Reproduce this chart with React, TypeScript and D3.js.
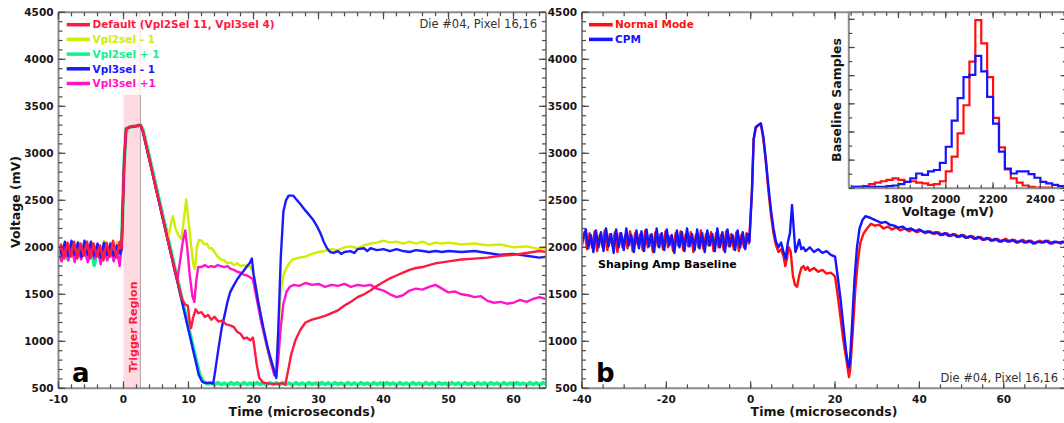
import React from "react";
import * as d3 from "d3";

type Pt = [number, number];

// ---------------- Panel a data (time µs, voltage mV) ----------------
const A_DEFAULT: Pt[] = [
  [-10,1960],[-9.6,2030],[-9.1,1880],[-8.6,2050],[-8.1,1900],[-7.6,2060],[-7.1,1880],[-6.6,2040],[-6.1,1910],[-5.6,2060],[-5.1,1880],[-4.6,2040],[-4.1,1900],[-3.6,2020],[-3.1,1860],[-2.6,2050],[-2.1,1900],[-1.6,2070],[-1.1,1890],[-0.6,2060],[-0.3,1990],
  [0.1,2900],[0.4,3260],[1,3280],[1.6,3290],[2.2,3290],[2.6,3300],[3,3230],[4,2930],[5,2620],[6,2330],[7,2020],[8,1730],[9,1450],[9.5,1390],[9.9,1380],[10.2,1200],[10.4,1140],[10.7,1250],[11.1,1340],[11.5,1300],[12,1310],[12.5,1260],[13,1280],[13.5,1230],[14,1260],[14.6,1210],[15.2,1220],[15.8,1180],[16.4,1170],[17,1150],[17.5,1100],[18,1080],[18.5,1030],[19,1040],[19.5,1010],[19.9,1040],[20.1,960],[20.5,750],[20.9,610],[21.5,560],[22.5,550],[23.5,545],[24.3,555],[24.9,540],
  [25.3,680],[25.8,860],[26.5,1020],[27.2,1120],[28,1200],[29,1230],[30,1250],[31,1270],[32,1300],[33,1330],[34,1380],[35,1420],[36,1470],[37,1500],[38,1540],[39,1590],[40,1630],[41,1670],[42,1700],[43,1730],[44,1760],[45,1780],[46,1790],[47,1810],[48,1830],[49,1840],[50,1850],[52,1870],[54,1880],[56,1890],[58,1910],[60,1920],[62,1940],[64,1960],[65,1950]
];
const A_VPL2_M1: Pt[] = [
  [-10,2000],[-9.5,1900],[-9,2050],[-8.5,1880],[-8,2040],[-7.5,1890],[-7,2060],[-6.5,1900],[-6,2030],[-5.5,1880],[-5,2050],[-4.5,1900],[-4,2020],[-3.5,1850],[-3,2070],[-2.5,1890],[-2,2050],[-1.5,1900],[-1,2060],[-0.5,1950],[-0.3,2000],
  [0.1,2900],[0.4,3260],[1,3280],[2,3290],[2.6,3300],[3,3235],[4,2935],[5,2630],[6,2330],[6.8,2080],[7.3,2250],[7.6,2330],[8,2200],[8.5,2120],[8.9,2090],[9.3,2300],[9.65,2510],[10,2280],[10.4,2020],[10.8,1800],[11,1770],[11.3,2000],[11.6,2080],[12,2070],[12.4,2030],[12.8,2040],[13.2,1990],[13.6,1990],[14,1950],[14.5,1900],[15,1870],[15.5,1860],[16,1830],[16.5,1840],[17,1810],[17.5,1830],[18,1800],[18.5,1810],[19,1790],[19.5,1800],[19.8,1750],
  [20.3,1620],[21,1330],[21.8,1010],[22.6,780],[23.2,700],[23.5,720],[23.8,1100],[24.2,1520],[24.6,1700],[25,1770],[25.5,1830],[26,1870],[27,1890],[28,1900],[29,1930],[30,1950],[31,1960],[32,1980],[33,1970],[34,2000],[35,2010],[36,1990],[37,2020],[38,2040],[39,2050],[40,2070],[41,2050],[42,2060],[43,2040],[44,2060],[45,2040],[46,2060],[47,2030],[48,2050],[49,2040],[50,2050],[52,2030],[54,2040],[56,2020],[58,2030],[60,2000],[62,2010],[64,1980],[65,1990]
];
const A_VPL2_P1: Pt[] = [
  [-10,1980],[-9.5,1890],[-9,2030],[-8.5,1870],[-8,2020],[-7.5,1880],[-7,2040],[-6.5,1900],[-6,2010],[-5.5,1870],[-5,2030],[-4.5,1810],[-4,2000],[-3.5,1870],[-3,2030],[-2.5,1880],[-2,2020],[-1.5,1900],[-1,2040],[-0.5,1940],[-0.3,2000],
  [0.1,2900],[0.4,3260],[1,3280],[2,3290],[2.6,3300],[3,3250],[4,2955],[5,2650],[6,2350],[7,2050],[8,1750],[9,1450],[10,1150],[11,850],[11.7,650],[12.3,570],
  [13,545],[13.5,558],[14,538],[14.5,560],[15,540],[15.5,556],[16,536],[16.5,560],[17,542],[17.5,558],[18,536],[18.5,560],[19,540],[19.5,557],[20,537],[20.5,560],[21,541],[21.5,556],[22,536],[22.5,560],[23,540],[23.5,558],[24,537],[24.5,560],[25,542],[25.5,556],[26,536],[26.5,560],[27,540],[27.5,557],[28,538],[28.5,560],[29,541],[29.5,556],[30,536],[30.5,560],[31,540],[31.5,558],[32,537],[32.5,560],[33,542],[33.5,556],[34,536],[34.5,560],[35,540],[35.5,557],[36,538],[36.5,560],[37,541],[37.5,556],[38,536],[38.5,560],[39,540],[39.5,558],[40,537],[40.5,560],[41,542],[41.5,556],[42,536],[42.5,560],[43,540],[43.5,557],[44,538],[44.5,560],[45,541],[45.5,556],[46,536],[46.5,560],[47,540],[47.5,558],[48,537],[48.5,560],[49,542],[49.5,556],[50,536],[50.5,560],[51,540],[51.5,557],[52,538],[52.5,560],[53,541],[53.5,556],[54,536],[54.5,560],[55,540],[55.5,558],[56,537],[56.5,560],[57,542],[57.5,556],[58,536],[58.5,560],[59,540],[59.5,557],[60,538],[60.5,560],[61,541],[61.5,556],[62,536],[62.5,560],[63,540],[63.5,558],[64,537],[64.5,560],[65,545]
];
const A_VPL3_M1: Pt[] = [
  [-10,2010],[-9.5,1920],[-9,2060],[-8.5,1910],[-8,2070],[-7.5,1920],[-7,2050],[-6.5,1900],[-6,2070],[-5.5,1920],[-5,2060],[-4.5,1910],[-4,2040],[-3.5,1890],[-3,2050],[-2.5,1920],[-2,2040],[-1.5,1910],[-1,2020],[-0.5,1930],[-0.3,1980],
  [0.1,2900],[0.4,3260],[1,3280],[2,3290],[2.6,3300],[3,3225],[4,2925],[5,2620],[6,2320],[7,2020],[8,1720],[9,1420],[10,1120],[11,820],[11.6,640],[12.1,570],[12.6,555],[13.2,560],[13.8,550],
  [14.1,680],[14.6,920],[15.1,1140],[15.5,1260],[16,1420],[16.4,1520],[17,1600],[17.5,1660],[18,1710],[18.5,1750],[19,1800],[19.4,1830],[19.75,1880],[20,1720],[20.7,1430],[21.5,1150],[22.3,900],[23,730],[23.5,610],
  [23.8,1100],[24.2,1900],[24.6,2380],[25,2500],[25.4,2550],[26.1,2550],[26.7,2500],[27.2,2460],[28,2390],[28.5,2350],[29.2,2290],[29.8,2220],[30.3,2150],[30.8,2060],[31.3,1990],[31.8,1950],[32.3,1940],[33,1960],[33.5,1930],[34,1950],[34.9,1960],[35.5,1940],[36,1980],[37,1990],[37.5,1960],[38,1990],[39,1970],[40,1980],[41,1960],[42,1980],[43,1960],[44,1950],[45,1970],[46,1960],[47,1950],[48,1960],[49,1950],[50,1960],[52,1950],[54,1960],[56,1940],[58,1920],[60,1930],[62,1910],[64,1890],[65,1900]
];
const A_VPL3_P1: Pt[] = [
  [-10,1930],[-9.5,1850],[-9,2000],[-8.5,1860],[-8,2010],[-7.5,1840],[-7,2000],[-6.5,1870],[-6,1990],[-5.5,1840],[-5,2000],[-4.5,1880],[-4,1980],[-3.5,1820],[-3,2000],[-2.5,1860],[-2,1990],[-1.5,1850],[-1,1980],[-0.6,1800],[-0.3,1990],
  [0.1,2900],[0.4,3260],[1,3280],[2,3290],[2.6,3300],[3,3230],[4,2930],[5,2630],[6,2320],[7,2020],[8,1720],[8.3,1660],[8.7,1850],[9.1,2050],[9.5,2180],[9.8,2000],[10.2,1700],[10.6,1480],[10.9,1420],[11.2,1650],[11.5,1790],[12,1790],[12.5,1810],[13,1790],[13.5,1800],[14,1790],[14.5,1810],[15,1800],[15.5,1790],[16,1800],[16.5,1770],[17,1760],[17.5,1740],[18,1730],[18.5,1710],[19,1700],[19.5,1680],[19.9,1660],
  [20.5,1450],[21.2,1200],[22,970],[22.7,770],[23.2,640],[23.5,630],[23.8,800],[24.2,1150],[24.6,1400],[25.1,1530],[25.6,1580],[26.2,1600],[27,1590],[28,1620],[29,1600],[30,1610],[31,1580],[32,1600],[33,1590],[34,1610],[35,1580],[36,1600],[37,1590],[38,1600],[39,1560],[40,1540],[41,1500],[42,1470],[43,1490],[44,1540],[45,1560],[46,1550],[47,1580],[48,1600],[49,1560],[50,1520],[51,1530],[52,1500],[53,1490],[54,1470],[55,1480],[56,1430],[57,1410],[58,1420],[59,1400],[60,1410],[61,1440],[62,1420],[63,1450],[64,1470],[65,1450]
];

const A_SERIES_NAMES = ["Default (Vpl2Sel 11, Vpl3sel 4)", "Vpl2sel - 1", "Vpl2sel + 1", "Vpl3sel - 1", "Vpl3sel +1"];
const A_SERIES_COLORS = ["#ff1a40", "#cfee00", "#14f08c", "#1a1aff", "#ff14c8"];
const A_SERIES_DATA = [A_DEFAULT, A_VPL2_M1, A_VPL2_P1, A_VPL3_M1, A_VPL3_P1];
const A_DRAW_ORDER = [2, 1, 4, 3, 0];
const TRIGGER_REGION: [number, number] = [0, 2.6];

// ---------------- Panel b data ----------------
const B_NORMAL: Pt[] = [
  [-40,2060],[-39.4,2160],[-38.8,1980],[-38.2,2150],[-37.6,2000],[-37,2170],[-36.4,1960],[-35.8,2130],[-35.2,2010],[-34.6,2180],[-34,1970],[-33.4,2140],[-32.8,2020],[-32.2,2160],[-31.6,1950],[-31,2150],[-30.4,2000],[-29.8,2120],[-29.2,1990],[-28.6,2170],[-28,1960],[-27.4,2150],[-26.8,2030],[-26.2,2140],[-25.6,1970],[-25,2180],[-24.4,2000],[-23.8,2130],[-23.2,1950],[-22.6,2160],[-22,2010],[-21.4,2140],[-20.8,1980],[-20.2,2170],[-19.6,2000],[-19,2120],[-18.4,1960],[-17.8,2150],[-17.2,2020],[-16.6,2170],[-16,1970],[-15.4,2140],[-14.8,2010],[-14.2,2160],[-13.6,1950],[-13,2130],[-12.4,2000],[-11.8,2180],[-11.2,1980],[-10.6,2140],[-10,2020],[-9.4,2160],[-8.8,1960],[-8.2,2150],[-7.6,2000],[-7,2130],[-6.4,1970],[-5.8,2170],[-5.2,2010],[-4.6,2140],[-4,1980],[-3.4,2160],[-2.8,1960],[-2.2,2130],[-1.6,2000],[-1,2150],[-0.4,2040],
  [0.3,2600],[0.7,3150],[1.2,3270],[1.8,3300],[2.4,3310],[3,3150],[3.6,2900],[4.2,2600],[4.8,2350],[5.4,2150],[6,2020],[6.6,1950],[7.2,1980],[7.8,1900],[8.2,1800],[8.6,1880],[9,2000],[9.5,1950],[10,1700],[10.5,1600],[11,1580],[11.5,1700],[12,1780],[12.5,1800],[13,1760],[13.5,1790],[14,1750],[15,1780],[16,1740],[17,1760],[18,1720],[19,1730],[20,1690],
  [20.6,1500],[21.3,1250],[22,1000],[22.7,800],[23.3,620],[23.6,700],[24.2,1100],[24.8,1550],[25.4,1850],[26,2050],[26.8,2150],[27.6,2200],[28.5,2250],[29.5,2230],[30.5,2240],[31.5,2200],[32.5,2220],[33.5,2190],[34.5,2210],[35.5,2180],[36.5,2200],[37.5,2170],[38.5,2190],[39.5,2160],[40.5,2180],[41.5,2150],[42.5,2170],[43.5,2140],[44.5,2160],[45.5,2130],[46.5,2150],[47.5,2120],[48.5,2140],[49.5,2110],[50.5,2130],[51.5,2100],[52.5,2120],[53.5,2090],[54.5,2110],[55.5,2080],[56.5,2100],[57.5,2070],[58.5,2090],[59.5,2060],[60.5,2090],[61.5,2060],[62.5,2080],[63.5,2050],[64.5,2080],[65.5,2050],[66.5,2070],[67.5,2040],[68.5,2070],[69.5,2050],[70.5,2070],[71.5,2040],[72.5,2060],[73.5,2040],[74.5,2060],[75,2050]
];
const B_CPM: Pt[] = [
  [-40,2020],[-39.7,2100],[-39.1,2190],[-38.5,1990],[-37.9,2130],[-37.3,1950],[-36.7,2180],[-36.1,2000],[-35.5,2160],[-34.9,1960],[-34.3,2200],[-33.7,2010],[-33.1,2140],[-32.5,1940],[-31.9,2190],[-31.3,2000],[-30.7,2150],[-30.1,1970],[-29.5,2200],[-28.9,2020],[-28.3,2130],[-27.7,1950],[-27.1,2180],[-26.5,1990],[-25.9,2170],[-25.3,1960],[-24.7,2190],[-24.1,2010],[-23.5,2140],[-22.9,1950],[-22.3,2200],[-21.7,2000],[-21.1,2150],[-20.5,1970],[-19.9,2190],[-19.3,2020],[-18.7,2130],[-18.1,1940],[-17.5,2180],[-16.9,2000],[-16.3,2160],[-15.7,1960],[-15.1,2200],[-14.5,2010],[-13.9,2140],[-13.3,1970],[-12.7,2190],[-12.1,1990],[-11.5,2150],[-10.9,1950],[-10.3,2180],[-9.7,2020],[-9.1,2140],[-8.5,1960],[-7.9,2200],[-7.3,2000],[-6.7,2160],[-6.1,1950],[-5.5,2190],[-4.9,2010],[-4.3,2130],[-3.7,1970],[-3.1,2180],[-2.5,2000],[-1.9,2160],[-1.3,1980],[-0.7,2140],[-0.3,2060],
  [0.3,2600],[0.7,3150],[1.2,3280],[1.8,3300],[2.4,3320],[3,3180],[3.6,2930],[4.2,2650],[4.8,2400],[5.4,2200],[6,2060],[6.6,2000],[7.2,2050],[7.8,1950],[8.3,1880],[8.8,2050],[9.3,2150],[9.8,2450],[10.2,2200],[10.6,1950],[11,2000],[11.5,2080],[12,1980],[12.5,2000],[13,1960],[14,2000],[15,1950],[16,1980],[17,1940],[18,1960],[19,1920],[20,1900],
  [20.6,1700],[21.3,1450],[22,1150],[22.6,900],[23.2,720],[23.5,760],[24,1150],[24.6,1650],[25.2,2000],[25.8,2200],[26.5,2290],[27.2,2330],[28,2320],[29,2300],[30,2280],[31,2260],[32,2270],[33,2240],[34,2230],[35,2210],[36,2220],[37,2190],[38,2200],[39,2170],[40,2190],[41,2160],[42,2170],[43,2150],[44,2160],[45,2130],[46,2150],[47,2120],[48,2140],[49,2110],[50,2130],[51,2100],[52,2120],[53,2090],[54,2110],[55,2080],[56,2100],[57,2070],[58,2090],[59,2060],[60,2080],[61,2060],[62,2080],[63,2050],[64,2070],[65,2050],[66,2070],[67,2040],[68,2060],[69,2050],[70,2070],[71,2040],[72,2060],[73,2050],[74,2060],[75,2050]
];
const B_SERIES_NAMES = ["Normal Mode", "CPM"];
const B_SERIES_COLORS = ["#ff1010", "#1414ff"];

// ---------------- Inset histogram ----------------
const HIST_BIN_EDGES = [1600,1625,1650,1675,1700,1725,1750,1775,1800,1825,1850,1875,1900,1925,1950,1975,2000,2025,2050,2075,2100,2125,2150,2175,2200,2225,2250,2275,2300,2325,2350,2375,2400,2425,2450,2475,2500];
const HIST_NORMAL = [2,2,3,6,8,10,12,14,12,9,10,8,7,5,6,10,24,45,78,118,180,239,206,158,100,58,27,14,8,4,2,1,1,1,0,0];
const HIST_CPM = [2,2,2,2,2,2,3,4,6,9,14,21,19,24,26,36,59,96,128,158,161,188,166,130,92,52,28,21,24,24,20,15,9,7,5,3];

const FONT = "'DejaVu Sans', Verdana, sans-serif";
const AXIS_COLOR = "#8c8c8c";
const TICK_COLOR = "#4a4a4a";
const TEXT_COLOR = "#161616";

type AxisProps = {
  x: d3.ScaleLinear<number, number>;
  y: d3.ScaleLinear<number, number>;
  xMajor: number[];
  xMinor: number[];
  yMajor: number[];
  yMinor: number[];
  xLabels?: boolean;
  yLabels?: boolean;
  majorLen?: number;
  minorLen?: number;
  fontSize?: number;
  drawRight?: boolean;
  drawTop?: boolean;
};

function Frame(p: AxisProps) {
  const [x0, x1] = p.x.range();
  const [y0, y1] = p.y.range();
  const ML = p.majorLen ?? 7;
  const mL = p.minorLen ?? 4;
  const fs = p.fontSize ?? 10.5;
  const els: React.ReactNode[] = [];
  const drawTop = p.drawTop ?? true;
  const drawRight = p.drawRight ?? true;
  const xt = (vals: number[], len: number, k: string) =>
    vals.forEach((v, i) => {
      const xx = p.x(v);
      els.push(<line key={`${k}b${i}`} x1={xx} x2={xx} y1={y0} y2={y0 - len} stroke={TICK_COLOR} strokeWidth={1.2} />);
      if (drawTop) els.push(<line key={`${k}t${i}`} x1={xx} x2={xx} y1={y1} y2={y1 + len} stroke={TICK_COLOR} strokeWidth={1.2} />);
    });
  const yt = (vals: number[], len: number, k: string) =>
    vals.forEach((v, i) => {
      const yy = p.y(v);
      els.push(<line key={`${k}l${i}`} x1={x0} x2={x0 + len} y1={yy} y2={yy} stroke={TICK_COLOR} strokeWidth={1.2} />);
      if (drawRight) els.push(<line key={`${k}r${i}`} x1={x1} x2={x1 - len} y1={yy} y2={yy} stroke={TICK_COLOR} strokeWidth={1.2} />);
    });
  xt(p.xMinor, mL, "xm");
  xt(p.xMajor, ML, "xM");
  yt(p.yMinor, mL, "ym");
  yt(p.yMajor, ML, "yM");
  return (
    <g>
      <line x1={x0} x2={x1} y1={y0} y2={y0} stroke={AXIS_COLOR} strokeWidth={2} />
      <line x1={x0} x2={x0} y1={y0} y2={y1} stroke={AXIS_COLOR} strokeWidth={2} />
      {drawTop && <line x1={x0} x2={x1} y1={y1} y2={y1} stroke={AXIS_COLOR} strokeWidth={2} />}
      {drawRight && <line x1={x1} x2={x1} y1={y0} y2={y1} stroke={AXIS_COLOR} strokeWidth={2} />}
      {els}
      {p.xLabels !== false &&
        p.xMajor.map((v, i) => (
          <text key={`xl${i}`} x={p.x(v)} y={y0 + 14.5} textAnchor="middle" fontFamily={FONT} fontWeight="bold" fontSize={fs} fill={TEXT_COLOR}>
            {String(v)}
          </text>
        ))}
      {p.yLabels !== false &&
        p.yMajor.map((v, i) => (
          <text key={`yl${i}`} x={x0 - 5} y={p.y(v)} dy="0.36em" textAnchor="end" fontFamily={FONT} fontWeight="bold" fontSize={fs} fill={TEXT_COLOR}>
            {String(v)}
          </text>
        ))}
    </g>
  );
}

export default function App() {
  const W = 1064, H = 423;
  const xA = d3.scaleLinear().domain([-10, 65]).range([58.5, 546]);
  const yA = d3.scaleLinear().domain([500, 4500]).range([388.3, 12.3]);
  const xB = d3.scaleLinear().domain([-40, 75]).range([582, 1067]);
  const yB = d3.scaleLinear().domain([500, 4500]).range([388.3, 12.3]);
  const xI = d3.scaleLinear().domain([1590, 2510]).range([848.8, 1066.4]);
  const yI = d3.scaleLinear().domain([0, 250]).range([188.3, 12.3]);

  const lineA = d3.line<Pt>().x((d) => xA(d[0])).y((d) => yA(d[1]));
  const lineB = d3.line<Pt>().x((d) => xB(d[0])).y((d) => yB(d[1]));
  const histLine = d3.line<Pt>().x((d) => xI(d[0])).y((d) => yI(d[1])).curve(d3.curveStepAfter);
  const histPts = (counts: number[]): Pt[] => {
    const pts: Pt[] = counts.map((c, i) => [HIST_BIN_EDGES[i], c] as Pt);
    pts.push([HIST_BIN_EDGES[HIST_BIN_EDGES.length - 1], counts[counts.length - 1]]);
    return pts;
  };

  const vMajor = d3.range(500, 4501, 500);
  const vMinor = d3.range(500, 4501, 100);

  return (
    <svg width={W} height={H} viewBox={`0 0 ${W} ${H}`} style={{ position: "absolute", left: 0, top: 0, background: "#fff" }}>
      <defs>
        <clipPath id="clipA"><rect x={58.5} y={12.3} width={546 - 58.5} height={388.3 - 12.3} /></clipPath>
        <clipPath id="clipB"><rect x={582} y={12.3} width={1067 - 582} height={388.3 - 12.3} /></clipPath>
        <clipPath id="clipI"><rect x={848.8} y={12.3} width={1066.4 - 848.8} height={188.3 - 12.3} /></clipPath>
      </defs>
      <rect x={0} y={0} width={W} height={H} fill="#fff" />

      {/* ---------- Panel a ---------- */}
      <g clipPath="url(#clipA)">
        <rect x={xA(TRIGGER_REGION[0])} y={12.3} width={xA(TRIGGER_REGION[1]) - xA(TRIGGER_REGION[0])} height={376} fill="#ffdbe1" />
        <line x1={xA(TRIGGER_REGION[1])} x2={xA(TRIGGER_REGION[1])} y1={12.3} y2={388.3} stroke="#b0a0a4" strokeWidth={1} />
        {A_DRAW_ORDER.map((i) => (
          <path key={i} d={lineA(A_SERIES_DATA[i]) || ""} fill="none" stroke={A_SERIES_COLORS[i]} strokeWidth={i === 2 ? 3.6 : 2.4} strokeLinejoin="round" />
        ))}
        <rect x={59} y={13} width={225} height={82} fill="#fff" opacity={0.8} />
      </g>
      <text transform={`translate(136.5,327) rotate(-90)`} textAnchor="middle" fontFamily={FONT} fontWeight="bold" fontSize={11} fill="#ff1a40">Trigger Region</text>
      <Frame x={xA} y={yA} xMajor={d3.range(-10, 61, 10)} xMinor={d3.range(-10, 65, 2)} yMajor={vMajor} yMinor={vMinor} />
      {A_SERIES_NAMES.map((n, i) => {
        const yy = 24.7 + i * 14.7;
        return (
          <g key={n}>
            <line x1={66.7} x2={90} y1={yy} y2={yy} stroke={A_SERIES_COLORS[i]} strokeWidth={3.5} />
            <text x={92.5} y={yy} dy="0.36em" fontFamily={FONT} fontWeight="bold" fontSize={10.5} fill={A_SERIES_COLORS[i]}>{n}</text>
          </g>
        );
      })}
      <text x={537} y={28} textAnchor="end" fontFamily={FONT} fontSize={11.5} fill="#333">Die #04, Pixel 16,16</text>
      <text x={72} y={382} fontFamily={FONT} fontWeight="bold" fontSize={26} fill="#000">a</text>
      <text x={302} y={416} textAnchor="middle" fontFamily={FONT} fontWeight="bold" fontSize={12.5} fill={TEXT_COLOR}>Time (microseconds)</text>
      <text transform={`translate(20,202) rotate(-90)`} textAnchor="middle" fontFamily={FONT} fontWeight="bold" fontSize={12.5} fill={TEXT_COLOR}>Voltage (mV)</text>

      {/* ---------- Panel b ---------- */}
      <g clipPath="url(#clipB)">
        <path d={lineB(B_NORMAL) || ""} fill="none" stroke={B_SERIES_COLORS[0]} strokeWidth={2.4} strokeLinejoin="round" />
        <path d={lineB(B_CPM) || ""} fill="none" stroke={B_SERIES_COLORS[1]} strokeWidth={2.4} strokeLinejoin="round" />
      </g>
      <Frame x={xB} y={yB} xMajor={d3.range(-40, 61, 20)} xMinor={d3.range(-40, 76, 5)} yMajor={vMajor} yMinor={vMinor} />
      {B_SERIES_NAMES.map((n, i) => {
        const yy = 24.7 + i * 14.7;
        return (
          <g key={n}>
            <line x1={589} x2={612.7} y1={yy} y2={yy} stroke={B_SERIES_COLORS[i]} strokeWidth={3.5} />
            <text x={615} y={yy} dy="0.36em" fontFamily={FONT} fontWeight="bold" fontSize={10.5} fill={B_SERIES_COLORS[i]}>{n}</text>
          </g>
        );
      })}
      <text x={598} y={268} fontFamily={FONT} fontWeight="bold" fontSize={11} fill="#000">Shaping Amp Baseline</text>
      <text x={596} y={382} fontFamily={FONT} fontWeight="bold" fontSize={26} fill="#000">b</text>
      <text x={1058} y={382} textAnchor="end" fontFamily={FONT} fontSize={11.5} fill="#333">Die #04, Pixel 16,16</text>
      <text x={824} y={416} textAnchor="middle" fontFamily={FONT} fontWeight="bold" fontSize={12.5} fill={TEXT_COLOR}>Time (microseconds)</text>

      {/* ---------- Inset ---------- */}
      <rect x={848.8} y={12.3} width={1066.4 - 848.8} height={176} fill="#fff" />
      <g clipPath="url(#clipI)">
        <path d={histLine(histPts(HIST_NORMAL)) || ""} fill="none" stroke={B_SERIES_COLORS[0]} strokeWidth={2.2} />
        <path d={histLine(histPts(HIST_CPM)) || ""} fill="none" stroke={B_SERIES_COLORS[1]} strokeWidth={2.2} />
      </g>
      <Frame x={xI} y={yI} xMajor={[1800, 2000, 2200, 2400]} xMinor={d3.range(1600, 2501, 50)} yMajor={d3.range(0, 250, 40)} yMinor={d3.range(0, 250, 20)} yLabels={false} majorLen={6} minorLen={3.5} drawRight={true} />
      <text x={948} y={216} textAnchor="middle" fontFamily={FONT} fontWeight="bold" fontSize={12.5} fill={TEXT_COLOR}>Voltage (mV)</text>
      <text transform={`translate(841,100) rotate(-90)`} textAnchor="middle" fontFamily={FONT} fontWeight="bold" fontSize={12.5} fill={TEXT_COLOR}>Baseline Samples</text>
    </svg>
  );
}
